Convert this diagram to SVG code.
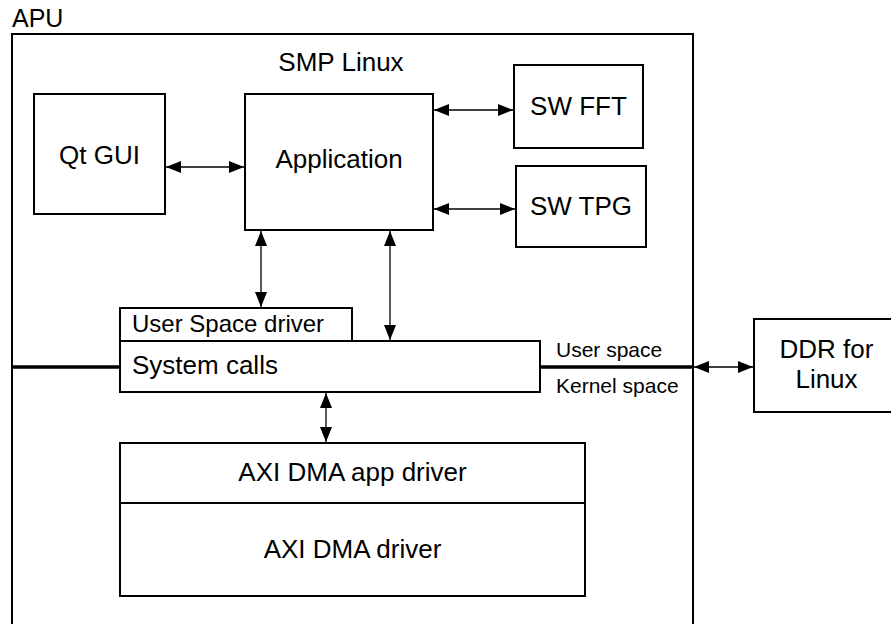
<svg xmlns="http://www.w3.org/2000/svg" width="891" height="624" viewBox="0 0 891 624">
<style>
text{font-family:"Liberation Sans",Arial,sans-serif;fill:#000}
.box{fill:#fff;stroke:#000;stroke-width:2}
.lbl{font-size:26px;text-anchor:middle}
.conn{stroke:#000;stroke-width:1.3;fill:none;marker-start:url(#ah);marker-end:url(#ah)}
.thick{stroke:#000;stroke-width:3.5;fill:none}
</style>
<defs>
<marker id="ah" viewBox="0 0 15 12" refX="15" refY="6" markerWidth="15" markerHeight="12" markerUnits="userSpaceOnUse" orient="auto-start-reverse">
<path d="M0,0 L15,6 L0,12 Z" fill="#000"/>
</marker>
</defs>
<rect width="891" height="624" fill="#fff"/>
<g id="apu">
<rect class="box" x="12" y="34" width="681" height="620" fill="none"/>
<text x="12" y="27" font-size="25">APU</text>
<text class="lbl" x="341" y="71">SMP Linux</text>
</g>
<g id="qtgui"><rect class="box" x="34" y="94" width="131" height="120"/><text class="lbl" x="99.5" y="164">Qt GUI</text></g>
<g id="application"><rect class="box" x="245" y="94" width="188" height="136"/><text class="lbl" x="339" y="168">Application</text></g>
<g id="swfft"><rect class="box" x="514" y="65" width="129" height="83"/><text class="lbl" x="578.5" y="115">SW FFT</text></g>
<g id="swtpg"><rect class="box" x="516" y="166" width="130" height="81"/><text class="lbl" x="581" y="215">SW TPG</text></g>
<g id="userspacedriver"><rect class="box" x="120" y="308" width="232" height="33"/><text x="132" y="332" font-size="24">User Space driver</text></g>
<g id="systemcalls"><rect class="box" x="120" y="341" width="420" height="51"/><text x="132" y="374" font-size="26">System calls</text></g>
<g id="axiapp"><rect class="box" x="120" y="443" width="465" height="60"/><text class="lbl" x="352.5" y="481">AXI DMA app driver</text></g>
<g id="axidma"><rect class="box" x="120" y="503" width="465" height="93"/><text class="lbl" x="352.5" y="558">AXI DMA driver</text></g>
<g id="ddr"><rect class="box" x="754" y="319" width="150" height="93"/><text class="lbl" x="826.5" y="358" font-size="27">DDR for</text><text class="lbl" x="826.5" y="388" font-size="27">Linux</text></g>
<g id="space-labels">
<text x="556" y="357" font-size="21">User space</text>
<text x="556" y="393" font-size="21">Kernel space</text>
</g>
<g id="connectors">
<line class="thick" x1="12" y1="367" x2="120" y2="367"/>
<line class="thick" x1="540" y1="367" x2="693" y2="367"/>
<line class="conn" x1="166" y1="167" x2="244" y2="167"/>
<line class="conn" x1="434" y1="110" x2="513" y2="110"/>
<line class="conn" x1="434" y1="209" x2="515" y2="209"/>
<line class="conn" x1="261" y1="231" x2="261" y2="307"/>
<line class="conn" x1="390" y1="231" x2="390" y2="340"/>
<line class="conn" x1="326" y1="393" x2="326" y2="442"/>
<line class="conn" x1="694" y1="367" x2="753" y2="367"/>
</g>
</svg>
